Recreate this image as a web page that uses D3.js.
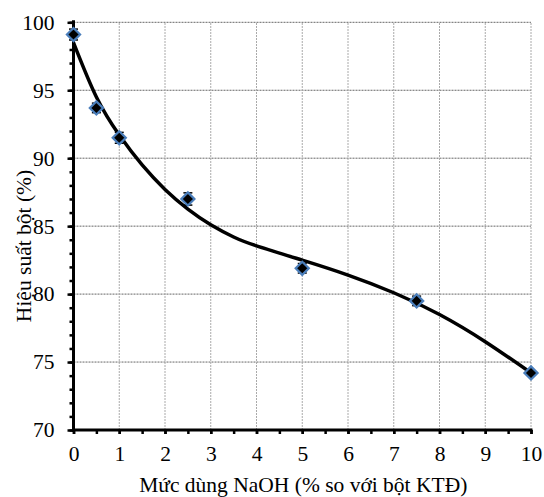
<!DOCTYPE html>
<html>
<head>
<meta charset="utf-8">
<script src="https://cdn.jsdelivr.net/npm/d3@7"></script>
<style>
  body { margin: 0; background: #fff; }
  text { font-family: "Liberation Serif", "Times New Roman", serif; fill: #000; }
</style>
</head>
<body>
<div id="chart"></div>
<script>
// measured points
var doses = [0, 0.5, 1, 2.5, 5, 7.5, 10];
var yields = [99.1, 93.7, 91.5, 87.0, 81.9, 79.5, 74.2];
var errors = [0.4, 0.35, 0.4, 0.45, 0.35, 0.35, 0.15];

// trendline
var trendX = [0, 0.5, 1, 1.5, 2, 2.5, 3, 3.5, 4, 5, 6, 7, 8, 9, 10];
var trendY = [98.5, 94.5, 91.7, 89.5, 87.7, 86.25, 85.1, 84.2, 83.55, 82.5, 81.4, 80.1, 78.5, 76.5, 74.2];

var xTicks = [0, 1, 2, 3, 4, 5, 6, 7, 8, 9, 10];
var yTicks = [70, 75, 80, 85, 90, 95, 100];

var xTitle = "Mức dùng NaOH (% so với bột KTĐ)";
var yTitle = "Hiệu suất bột (%)";

var width = 544, height = 497;
var margin = {left: 73.5, right: 13, top: 22.3, bottom: 67};
var fontSize = 21.5;

var svg = d3.select("#chart").append("svg")
    .attr("width", width)
    .attr("height", height);

var x = d3.scaleLinear().domain([0, 10]).range([margin.left, width - margin.right]);
var y = d3.scaleLinear().domain([70, 100]).range([height - margin.bottom, margin.top]);

// grid
var grid = svg.append("g").attr("class", "grid");
grid.selectAll("line.h")
    .data(yTicks.filter(function(d) { return d > 70; }))
  .enter().append("line")
    .attr("class", "h")
    .attr("x1", x(0)).attr("x2", x(10))
    .attr("y1", function(d) { return y(d); })
    .attr("y2", function(d) { return y(d); })
    .attr("stroke", "#666")
    .attr("stroke-width", 1)
    .attr("stroke-dasharray", "2,1");
grid.selectAll("line.v")
    .data(xTicks.filter(function(d) { return d > 0; }))
  .enter().append("line")
    .attr("class", "v")
    .attr("y1", y(70)).attr("y2", y(100))
    .attr("x1", function(d) { return x(d); })
    .attr("x2", function(d) { return x(d); })
    .attr("stroke", "#aaa")
    .attr("stroke-width", 1)
    .attr("stroke-dasharray", "2,1");

// trendline
var line = d3.line()
    .x(function(d, i) { return x(trendX[i]); })
    .y(function(d) { return y(d); })
    .curve(d3.curveNatural);
svg.append("path")
    .datum(trendY)
    .attr("d", line)
    .attr("fill", "none")
    .attr("stroke", "#000")
    .attr("stroke-width", 3.5);

// axes
var yAxis = d3.axisLeft(y).tickValues(yTicks).tickSize(6).tickPadding(13).tickFormat(d3.format("d"));
var yMinor = d3.axisLeft(y).tickValues(d3.range(70, 101, 1)).tickSize(4).tickFormat("");
var xAxis = d3.axisBottom(x).tickValues(xTicks).tickSize(4).tickPadding(12).tickFormat(d3.format("d"));
var xMinor = d3.axisBottom(x).tickValues(d3.range(0, 10.01, 0.5)).tickSize(4).tickFormat("");

function styleAxis(g) {
  g.attr("font-size", null).attr("font-family", null);
  g.select(".domain").remove();
  g.selectAll(".tick line").attr("stroke", "#000").attr("stroke-width", 2.5);
  g.selectAll(".tick text").attr("font-size", fontSize);
}

svg.append("g").attr("transform", "translate(" + margin.left + ",0)").call(yMinor).call(styleAxis);
svg.append("g").attr("transform", "translate(" + margin.left + ",0)").call(yAxis).call(styleAxis);
svg.append("g").attr("transform", "translate(0," + y(70) + ")").call(xMinor).call(styleAxis);
svg.append("g").attr("transform", "translate(0," + y(70) + ")").call(xAxis).call(styleAxis);

svg.append("line")
    .attr("x1", x(0)).attr("x2", x(0))
    .attr("y1", y(100) - 2).attr("y2", y(70) + 1.5)
    .attr("stroke", "#000").attr("stroke-width", 3);
svg.append("line")
    .attr("x1", x(0) - 1.5).attr("x2", x(10) + 1.5)
    .attr("y1", y(70)).attr("y2", y(70))
    .attr("stroke", "#000").attr("stroke-width", 3);

// error bars
var pts = svg.append("g").attr("class", "points");
doses.forEach(function(d, i) {
  var cx = x(d), lo = y(yields[i] - errors[i]), hi = y(yields[i] + errors[i]);
  pts.append("line").attr("x1", cx).attr("x2", cx).attr("y1", lo).attr("y2", hi)
      .attr("stroke", "#000").attr("stroke-width", 1.2);
  [lo, hi].forEach(function(v) {
    pts.append("line").attr("x1", cx - 4.5).attr("x2", cx + 4.5).attr("y1", v).attr("y2", v)
        .attr("stroke", "#000").attr("stroke-width", 1.5);
  });
});

// markers
var diamond = d3.symbol().type(d3.symbolDiamond2).size(110);
pts.selectAll("path.m")
    .data(doses)
  .enter().append("path")
    .attr("class", "m")
    .attr("d", diamond)
    .attr("transform", function(d, i) { return "translate(" + x(d) + "," + y(yields[i]) + ")"; })
    .attr("fill", "#000")
    .attr("stroke", "#4a7ebb")
    .attr("stroke-width", 2.2);

// titles
svg.append("text")
    .attr("x", (x(0) + x(10)) / 2 + 1)
    .attr("y", 492)
    .attr("text-anchor", "middle")
    .attr("font-size", fontSize)
    .text(xTitle);
svg.append("text")
    .attr("transform", "translate(31,246) rotate(-90)")
    .attr("text-anchor", "middle")
    .attr("font-size", fontSize)
    .text(yTitle);
</script>
</body>
</html>
